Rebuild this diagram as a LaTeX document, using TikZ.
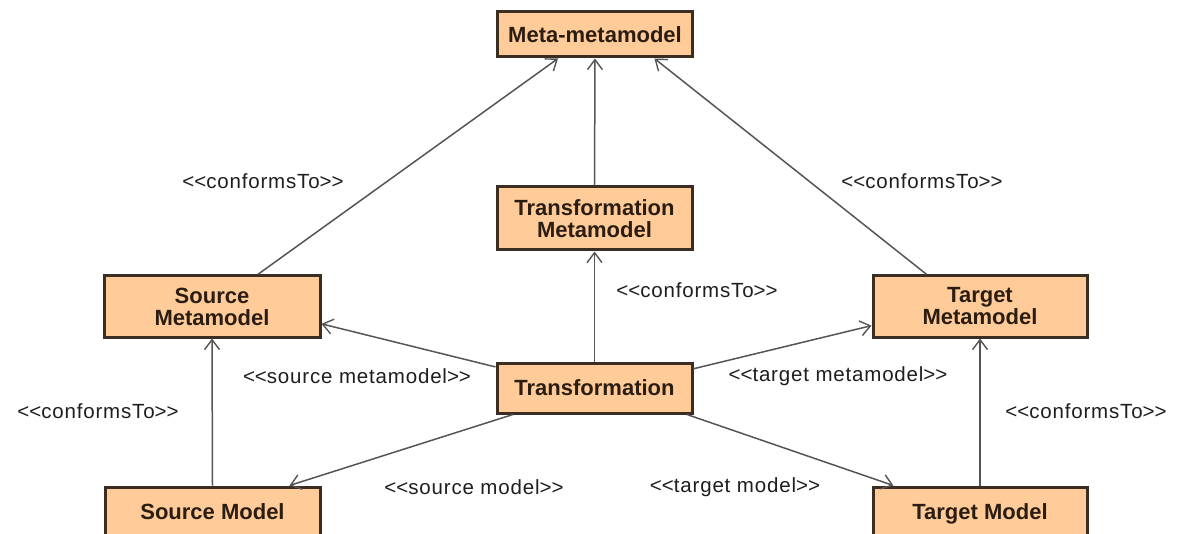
\documentclass[tikz,border=0pt]{standalone}
\usepackage{fontspec}
\setmainfont{Liberation Sans}
\usetikzlibrary{arrows.meta}
\definecolor{boxfill}{HTML}{FFCC99}
\definecolor{boxline}{HTML}{3A2E22}
\definecolor{boxtext}{HTML}{2B1D12}
\definecolor{wire}{HTML}{555555}
\definecolor{labeltext}{HTML}{1E1E1E}
% guillemet-free stereotype brackets
\newcommand{\stl}{<\kern0pt<\kern0pt}
\newcommand{\str}{\kern0pt>\kern0pt>}
\tikzset{
  model/.style={draw=boxline, line width=3pt, fill=boxfill, text=boxtext,
    font=\fontsize{22}{22}\selectfont\bfseries, align=center,
    inner sep=0pt, minimum width=#1},
  model/.default=195pt,
  rel/.style={draw=wire, line width=1.5pt,
    -{Straight Barb[length=10pt,width=15pt,line width=1.4pt]}},
  stereo/.style={text=labeltext, inner sep=0pt,
    font=\fontsize{20.5}{22}\selectfont\addfontfeature{LetterSpace=4}}
}
\begin{document}
\begin{tikzpicture}[x=1pt, y=-1pt]
  \useasboundingbox (0,0) rectangle (1190,534);
  \clip (0,0) rectangle (1190,534);
  \fill[white] (0,0) rectangle (1190,534);

  % model boxes
  \node[model, minimum height=45pt] (meta) at (595,34.5) {Meta-metamodel};
  \node[model, minimum height=63pt] (tmm) at (594.5,218.5) {Transformation\\Metamodel};
  \node[model=216pt, minimum height=61pt] (smm) at (212,306.5) {Source\\Metamodel};
  \node[model=214pt, minimum height=61pt] (tgm) at (980,306.5) {Target\\Metamodel};
  \node[model, minimum height=50pt] (tr) at (594.5,388) {Transformation};
  \node[model=215pt, minimum height=50pt] (sm) at (212.5,512) {Source Model\\[-22pt]\phantom{x}};
  \node[model=214pt, minimum height=50pt] (tm) at (980,512) {Target Model\\[-22pt]\phantom{x}};

  % relations
  \draw[rel] (smm.35) -- (meta.-147);
  \draw[rel] (tmm.north) -- (meta.south);
  \draw[rel] (tgm.149.6) -- (meta.-22.2);
  \draw[rel] (tr.north) -- (tmm.south);
  \draw[rel] (tr.168.4) -- (smm.-9.7);
  \draw[rel] (tr.11.6) -- (tgm.-170.2);
  \draw[rel] (tr.-162.5) -- (sm.19);
  \draw[rel] (tr.-16.7) -- (tm.163);
  \draw[rel] (sm.north) -- (smm.south);
  \draw[rel] (tm.north) -- (tgm.south);

  % stereotypes
  \node[stereo] (c1) at (263,181) {\stl conformsTo\str};
  \node[stereo] (c2) at (922,181) {\stl conformsTo\str};
  \node[stereo] (c3) at (697,290) {\stl conformsTo\str};
  \node[stereo] (c4) at (98,411) {\stl conformsTo\str};
  \node[stereo] (c5) at (1086,411) {\stl conformsTo\str};
  \node[stereo] (l1) at (357,376) {\stl source metamodel\str};
  \node[stereo] (l2) at (838,376) {\stl target metamodel\str};
  \node[stereo] (l3) at (474,487) {\stl source model\str};
  \node[stereo] (l4) at (735,487) {\stl target model\str};
\end{tikzpicture}
\end{document}
